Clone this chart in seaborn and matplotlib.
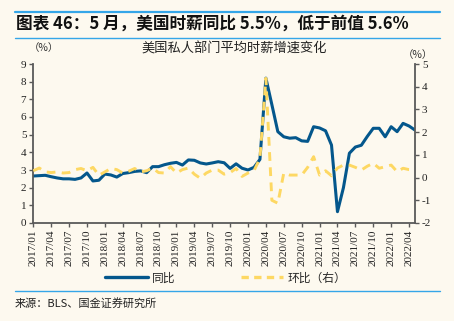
import matplotlib
matplotlib.use("Agg")
import matplotlib.pyplot as plt
import seaborn as sns
import numpy as np
import pandas as pd
from matplotlib.lines import Line2D
from matplotlib.font_manager import FontProperties

# ---------------- data ----------------
months = [f"{y}/{m:02d}" for y in range(2017, 2023) for m in range(1, 13)][:65]  # 2017/01 .. 2022/05

yoy = [2.66, 2.68, 2.70, 2.62, 2.55, 2.50, 2.50, 2.47, 2.55, 2.83,
       2.38, 2.42, 2.77, 2.72, 2.60, 2.80, 2.85, 2.92, 2.95, 2.85,
       3.19, 3.19, 3.30, 3.38, 3.43, 3.28, 3.57, 3.55, 3.40, 3.34,
       3.40, 3.47, 3.41, 3.09, 3.35, 3.10, 3.00, 3.15, 3.60, 8.20,
       6.70, 5.17, 4.88, 4.80, 4.83, 4.65, 4.62, 5.45, 5.38, 5.22,
       4.41, 0.64, 2.00, 3.95, 4.30, 4.40, 4.90, 5.36, 5.36, 4.88,
       5.45, 5.17, 5.64, 5.49, 5.26]

mom = [0.30, 0.42, 0.25, 0.22, 0.25, 0.20, 0.22, 0.35, 0.40, 0.30,
       0.45, 0.10, 0.25, 0.40, 0.35, 0.20, 0.28, 0.40, 0.25, 0.30,
       0.42, 0.22, 0.20, 0.48, 0.20, 0.35, 0.42, 0.15, -0.03, 0.20,
       0.33, 0.33, 0.15, 0.22, 0.40, 0.05, 0.20, 0.30, 0.85, 4.37,
       -1.00, -1.13, 0.20, 0.11, 0.11, 0.11, 0.45, 0.92, 0.11, 0.30,
       0.08, 0.42, 0.55, 0.55, 0.45, 0.33, 0.50, 0.63, 0.41, 0.48,
       0.55, 0.26, 0.41, 0.35, 0.33]

left_ticks = list(range(0, 10))
right_ticks = list(range(-2, 6))

title_text = "图表 46：5 月，美国时薪同比 5.5%，低于前值 5.6%"
subtitle_text = "美国私人部门平均时薪增速变化"
source_text = "来源：BLS、国金证券研究所"
label_yoy = "同比"
label_mom = "环比（右）"

# ---------------- style ----------------
BG = "#FDF9EF"
BLUE = "#04578C"
YELLOW = "#FDD863"
ACCENT = "#35A6E8"
SPINE = "#5A5A5A"

sns.set_theme(style="white")
plt.rcParams["font.family"] = ["Noto Sans CJK SC", "DejaVu Sans"]
serif_fp = FontProperties(family="Liberation Serif", size=8)

W, H = 454, 321
fig = plt.figure(figsize=(W / 100, H / 100), dpi=100, facecolor=BG)

def fx(px):
    return px / W

def fy(py):
    return 1 - py / H

ax = fig.add_axes([fx(33.3), fy(223), fx(415) - fx(33.3), fy(64) - fy(223)])
ax.set_facecolor(BG)
ax2 = ax.twinx()

df = pd.DataFrame({"i": np.arange(len(months)), "month": months, "yoy": yoy, "mom": mom})

sns.lineplot(data=df, x="i", y="yoy", ax=ax, color=BLUE, linewidth=2.2, legend=False)
sns.lineplot(data=df, x="i", y="mom", ax=ax2, color=YELLOW, linewidth=2.1, legend=False)
ax2.lines[0].set_dashes([3.0, 2.2])
ax2.lines[0].set_dash_capstyle("butt")

ax.set_xlim(0, 64)
ax.set_ylim(0, 9)
ax2.set_ylim(-2, 5)
ax.set_yticks(left_ticks)
ax2.set_yticks(right_ticks)
ax.set_xticks(df["i"][::3])
ax.set_xticklabels(df["month"][::3], rotation=90)
ax.set_yticklabels([str(t) for t in left_ticks])
ax2.set_yticklabels([str(t) for t in right_ticks])
for lbl in ax.get_xticklabels() + ax.get_yticklabels() + ax2.get_yticklabels():
    lbl.set_fontproperties(serif_fp)
    lbl.set_color("#222222")
ax.set_xlabel("")
ax.set_ylabel("")
ax2.set_ylabel("")

for a in (ax, ax2):
    for s in a.spines.values():
        s.set_visible(False)
ax.spines["left"].set_visible(True)
ax.spines["bottom"].set_visible(True)
ax2.spines["right"].set_visible(True)
for s in (ax.spines["left"], ax.spines["bottom"], ax2.spines["right"]):
    s.set_color(SPINE)
    s.set_linewidth(1.3)

ax.tick_params(axis="both", direction="out", length=3, width=1, color=SPINE, pad=2,
               left=True, bottom=True)
ax2.tick_params(axis="y", direction="out", length=3, width=1, color=SPINE, pad=2, right=True)
ax.grid(False)
ax2.grid(False)

# ---------------- texts ----------------
fig.add_artist(Line2D([fx(15), fx(440)], [fy(12), fy(12)], color=ACCENT, linewidth=1.6))
fig.add_artist(Line2D([fx(15), fx(440)], [fy(38), fy(38)], color=ACCENT, linewidth=1.0))
fig.text(fx(16), fy(24), title_text, fontsize=12, fontweight="bold", style="italic",
         ha="left", va="center", color="#111111")
fig.text(fx(234), fy(49), subtitle_text, fontsize=9.5, ha="center", va="center", color="#222222")
fig.text(fx(44), fy(48), "（%）", fontsize=7.5, ha="center", va="center", color="#333333")
fig.text(fx(418), fy(55), "（%）", fontsize=7.5, ha="center", va="center", color="#333333")

fig.add_artist(Line2D([fx(15), fx(440)], [fy(291), fy(291)], color=ACCENT, linewidth=1.0))
fig.text(fx(15), fy(303), source_text, fontsize=8, ha="left", va="center", color="#222222")

handles = [Line2D([0], [0], color=BLUE, linewidth=2.4),
           Line2D([0], [0], color=YELLOW, linewidth=2.4, dashes=[2.2, 1.6])]
leg = fig.legend(handles, [label_yoy, label_mom], loc="center",
                 bbox_to_anchor=(fx(226), fy(278)), ncol=2, frameon=False,
                 fontsize=8.5, handlelength=3.6, handletextpad=0.4, columnspacing=5.5)

fig.savefig("out.png", dpi=100, facecolor=BG)
